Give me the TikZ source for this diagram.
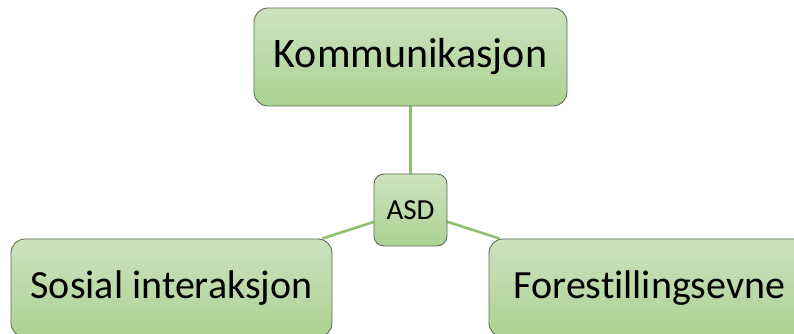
\documentclass[tikz,border=0pt]{standalone}
\usepackage{fontspec}
\setmainfont[RawFeature=-liga]{Carlito}
\usetikzlibrary{backgrounds,calc}
\definecolor{topg}{HTML}{CCE3BF}
\definecolor{botg}{HTML}{ACD292}
\definecolor{edgeg}{HTML}{8DC26F}
\definecolor{bord}{HTML}{5F6B58}
\tikzset{
  gbox/.style={draw=bord, line width=0.9pt, rounded corners=#1, top color=topg, bottom color=botg, inner sep=0pt, align=center},
  conn/.style={draw=edgeg, line width=2.6pt}
}
\begin{document}
\begin{tikzpicture}[x=1pt,y=1pt]
\useasboundingbox (0,0) rectangle (794,334);
\clip (0,0) rectangle (794,334);
\node[gbox=14pt, minimum width=313pt, minimum height=98pt, font=\fontsize{42}{46}\selectfont] (kom) at (410.5,277) {Kommunikasjon};
\node[gbox=10pt, minimum width=73pt, minimum height=72pt, font=\fontsize{29}{32}\selectfont] (asd) at (410.5,124) {ASD};
\node[gbox=14pt, minimum width=321pt, minimum height=98pt, font=\fontsize{40}{44}\selectfont] (sos) at (171.5,46) {Sosial interaksjon};
\node[gbox=14pt, minimum width=321pt, minimum height=98pt, font=\fontsize{40}{44}\selectfont] (for) at (649.5,46) {Forestillingsevne};
\begin{scope}[on background layer]
\draw[conn] (kom.south) -- (asd.north);
\draw[conn] (asd.center) -- ($(sos.north east)+(-10,0)$);
\draw[conn] (asd.center) -- ($(for.north west)+(11,0)$);
\end{scope}
\end{tikzpicture}
\end{document}
